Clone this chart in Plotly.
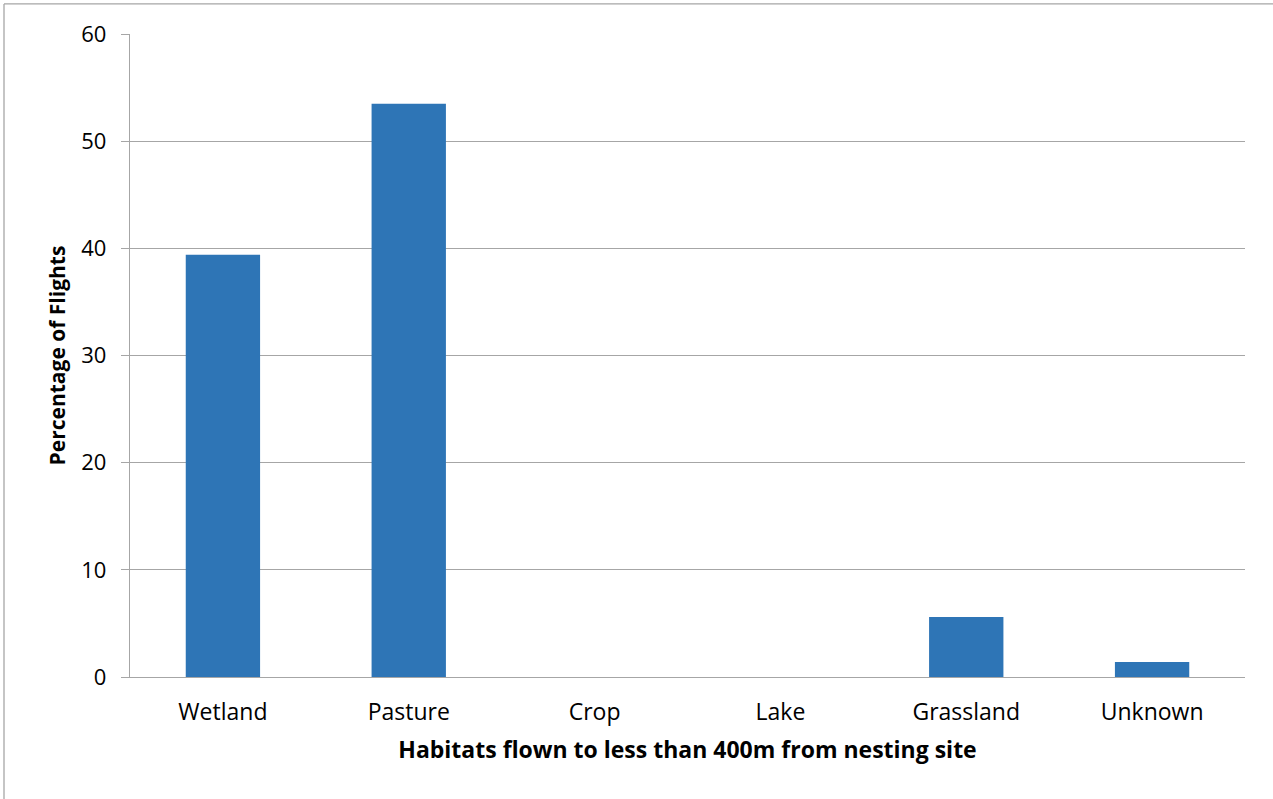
import plotly.graph_objects as go

habitats = ["Wetland", "Pasture", "Crop", "Lake", "Grassland", "Unknown"]
pct_flights = [39.4, 53.5, 0, 0, 5.6, 1.4]
y_ticks = [0, 10, 20, 30, 40, 50, 60]

FONT = "Open Sans"
GRID = "#a6a6a6"

fig = go.Figure(
    go.Bar(
        x=habitats,
        y=pct_flights,
        marker=dict(color="#2E75B6", line=dict(width=0)),
        width=0.4,
    )
)

fig.update_layout(
    width=1273,
    height=799,
    margin=dict(l=130, r=28, t=34, b=122),
    paper_bgcolor="white",
    plot_bgcolor="white",
    showlegend=False,
    font=dict(family=FONT, color="black", size=22),
    xaxis=dict(
        showline=True,
        linecolor=GRID,
        linewidth=1.3,
        ticks="",
        tickfont=dict(size=23),
        ticklabelstandoff=14,
        title=dict(
            text="<b>Habitats flown to less than 400m from nesting site</b>",
            font=dict(size=23),
            standoff=16,
        ),
    ),
    yaxis=dict(
        range=[0, 60],
        tickvals=y_ticks,
        showline=True,
        linecolor=GRID,
        linewidth=1.3,
        ticks="outside",
        ticklen=8,
        tickcolor=GRID,
        tickwidth=1.3,
        showgrid=True,
        gridcolor=GRID,
        gridwidth=1.3,
        zeroline=False,
        tickfont=dict(size=22),
        ticklabelstandoff=10,
        title=dict(text="<b>Percentage of Flights</b>", font=dict(size=21), standoff=9),
    ),
    shapes=[
        dict(type="line", xref="paper", yref="paper", x0=-0.113, x1=-0.113, y0=1.0467, y1=-0.25,
             line=dict(color=GRID, width=1.3)),
        dict(type="line", xref="paper", yref="paper", x0=-0.113, x1=1.05, y0=1.0467, y1=1.0467,
             line=dict(color=GRID, width=1.3)),
    ],
)

fig.write_html("out.html")
